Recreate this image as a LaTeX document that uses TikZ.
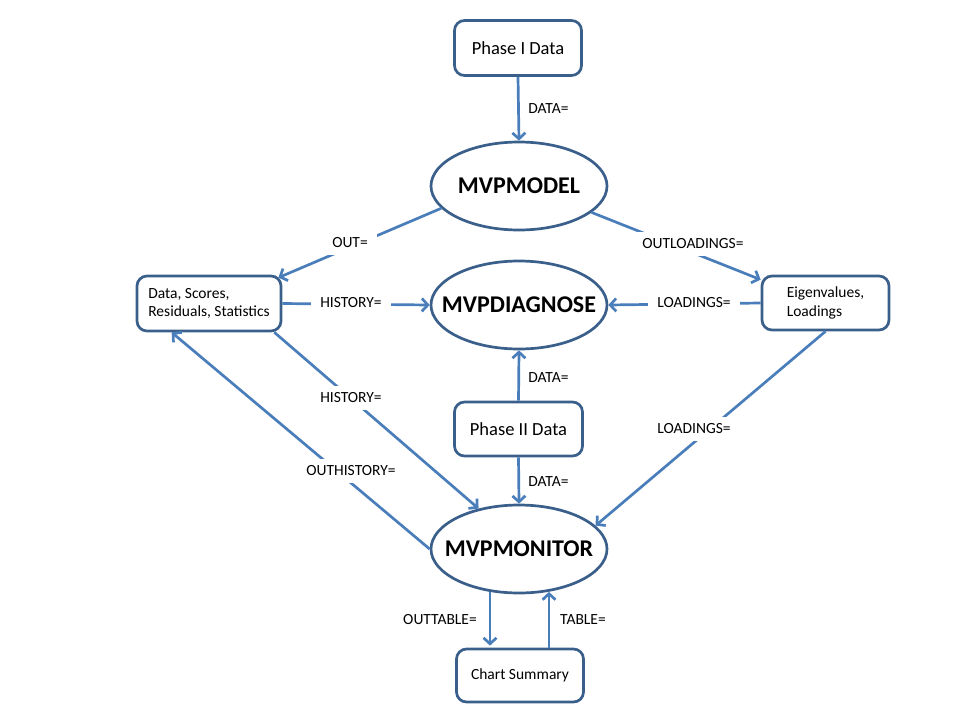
\documentclass[tikz,border=0pt]{standalone}
\usepackage{fontspec}
\setmainfont{Carlito}
\usetikzlibrary{shapes.geometric,arrows.meta}
\definecolor{nodeborder}{HTML}{3A5F8B}
\definecolor{arrowblue}{HTML}{4A7EBB}
\begin{document}
\begin{tikzpicture}[x=1pt,y=-1pt,
  box/.style={draw=nodeborder, line width=2.7pt, rounded corners=10pt, fill=white, inner sep=0pt, text=black},
  bigtext/.style={font=\fontsize{18.5}{22}\selectfont},
  smalltext/.style={font=\fontsize{15.5}{18.5}\selectfont},
  ell/.style={ellipse, draw=nodeborder, line width=2.7pt, fill=white, minimum width=176pt, minimum height=88pt, inner sep=0pt},
  elltext/.style={font=\fontsize{24}{28}\selectfont\bfseries, text=black, inner sep=0pt},
  arr/.style={draw=arrowblue, line width=2.7pt, -{Straight Barb[length=6pt,width=13pt]}},
  lbl/.style={font=\fontsize{15.5}{18.5}\selectfont, fill=white, inner xsep=9pt, inner ysep=7pt, text=black},
  slbl/.style={font=\fontsize{15.5}{18.5}\selectfont, inner sep=0pt, text=black}]
\useasboundingbox (0,0) rectangle (960,720);

% nodes
\node[box, bigtext, minimum width=127pt, minimum height=55pt] (p1) at (518,48) {Phase I Data};
\node[ell, label={[elltext]center:MVPMODEL}] (m) at (519,186) {};
\node[ell, label={[elltext]center:MVPDIAGNOSE}] (dg) at (519,305) {};
\node[ell, label={[elltext]center:MVPMONITOR}] (mon) at (519,549) {};
\node[box, smalltext, minimum width=144pt, minimum height=55pt, align=left] (d) at (209,303.5) {Data, Scores,\\Residuals, Statistics};
\node[box, smalltext, minimum width=127pt, minimum height=54pt, align=left] (e) at (825.5,303) {Eigenvalues,\\Loadings};
\node[box, bigtext, minimum width=128pt, minimum height=54pt] (p2) at (518.5,429) {Phase II Data};
\node[box, smalltext, minimum width=127pt, minimum height=53pt] (c) at (520,675.5) {Chart Summary};

% connectors
\draw[arr] (p1.south) -- (m.north)
  node[slbl, anchor=west, at={(527,109)}] {DATA=};
\draw[arr] (m.196) -- ([shift={(-4pt,-3pt)}]d.north east)
  node[lbl, at={(350,243)}] {OUT=};
\draw[arr] (m.340) -- ([yshift=-5pt]e.north west)
  node[lbl, at={(693,244)}] {OUTLOADINGS=};
\draw[arr] (d.east) -- (dg.west)
  node[lbl, at={(351,303)}] {HISTORY=};
\draw[arr] (e.west) -- (dg.east)
  node[lbl, at={(694,303)}] {LOADINGS=};
\draw[arr] (p2.north) -- (dg.south)
  node[slbl, anchor=west, at={(527,378)}] {DATA=};
\draw[arr] (p2.south) -- (mon.north)
  node[slbl, anchor=west, at={(527,482)}] {DATA=};
\draw[arr] ([xshift=-8pt]d.south east) -- (mon.135)
  node[lbl, at={(351,398)}] {HISTORY=};
\draw[arr] (mon.west) -- ([xshift=36pt]d.south west)
  node[lbl, at={(351,471)}] {OUTHISTORY=};
\draw[arr] (e.south) -- (mon.17)
  node[lbl, at={(694,429)}] {LOADINGS=};
\draw[arr] ([xshift=-30pt]c.north |- mon.-123.5) -- ([xshift=-30pt, yshift=2pt]c.north)
  node[slbl, at={(440,620)}] {OUTTABLE=};
\draw[arr] ([xshift=29pt]c.north) -- ([xshift=29pt]c.north |- mon.-56.5)
  node[slbl, at={(583,620)}] {TABLE=};
\end{tikzpicture}
\end{document}
